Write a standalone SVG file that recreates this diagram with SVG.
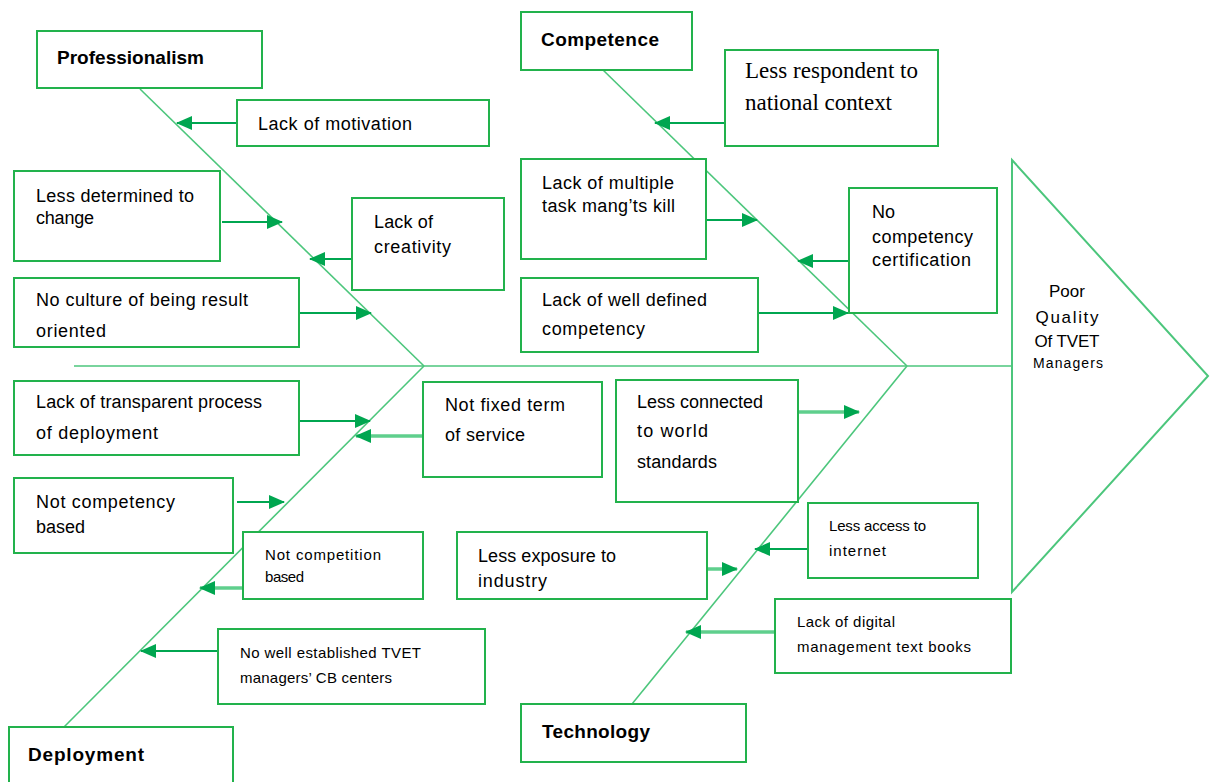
<svg xmlns="http://www.w3.org/2000/svg" width="1214" height="782" viewBox="0 0 1214 782">
  <style>
    .box { fill: #ffffff; stroke: #22b24c; stroke-width: 2; }
    .bone { fill: none; stroke: #4cc67c; stroke-width: 1.6; }
    .head { fill: #ffffff; stroke: #4cc67c; stroke-width: 2; }
    .arw { fill: none; stroke: #00a650; stroke-width: 2; marker-end: url(#tip); }
    .arw2 { fill: none; stroke: #5fcf8d; stroke-width: 3.5; marker-end: url(#tip); }
    text { font-family: "Liberation Sans", Arial, sans-serif; fill: #000000; }
    .t { font-size: 18px; }
    .s { font-size: 15px; }
    .b { font-size: 19px; font-weight: bold; }
    .serif { font-family: "Liberation Serif", "Times New Roman", serif; font-size: 23px; }
    .eff { font-size: 17px; text-anchor: middle; }
  </style>
  <defs>
    <marker id="tip" markerUnits="userSpaceOnUse" markerWidth="16" markerHeight="14" refX="15" refY="7" orient="auto">
      <path d="M0,0 L16,7 L0,14 z" fill="#00a650"/>
    </marker>
  </defs>
  <rect width="1214" height="782" fill="#ffffff"/>

  <!-- fishbone skeleton and cause arrows -->
  <g id="connectors">
    <line class="bone" x1="74" y1="366" x2="1012" y2="366"/>
    <line class="bone" x1="140" y1="89" x2="424" y2="366"/>
    <line class="bone" x1="603" y1="70" x2="907" y2="366"/>
    <line class="bone" x1="424" y1="366" x2="64" y2="727"/>
    <line class="bone" x1="907" y1="366" x2="632" y2="704"/>

    <line class="arw" x1="237" y1="123" x2="177" y2="123"/>
    <line class="arw" x1="222" y1="222" x2="282" y2="222"/>
    <line class="arw" x1="352" y1="259" x2="310" y2="259"/>
    <line class="arw" x1="299" y1="313" x2="371" y2="313"/>
    <line class="arw" x1="725" y1="123" x2="655" y2="123"/>
    <line class="arw" x1="707" y1="220" x2="757" y2="220"/>
    <line class="arw" x1="849" y1="261" x2="798" y2="261"/>
    <line class="arw" x1="758" y1="313" x2="848" y2="313"/>
    <line class="arw" x1="299" y1="421" x2="370" y2="421"/>
    <line class="arw2" x1="423" y1="436" x2="356" y2="436"/>
    <line class="arw" x1="237" y1="502" x2="284" y2="502"/>
    <line class="arw2" x1="243" y1="588" x2="200" y2="588"/>
    <line class="arw" x1="218" y1="651" x2="141" y2="651"/>
    <line class="arw2" x1="798" y1="412" x2="859" y2="412"/>
    <line class="arw" x1="808" y1="549" x2="755" y2="549"/>
    <line class="arw2" x1="707" y1="569" x2="737" y2="569"/>
    <line class="arw2" x1="775" y1="632" x2="686" y2="632"/>
  </g>

  <!-- effect head -->
  <g id="effect">
    <polygon class="head" points="1012,160 1208,376 1012,592"/>
    <text class="eff" x="1067" y="297">Poor</text>
    <text class="eff" x="1067" y="323" textLength="63" lengthAdjust="spacing">Quality</text>
    <text class="eff" x="1067" y="347" textLength="65" lengthAdjust="spacing">Of TVET</text>
    <text class="eff" x="1068" y="368" style="font-size:14px" textLength="70" lengthAdjust="spacing">Managers</text>
  </g>

  <!-- category heads -->
  <g id="professionalism">
    <rect class="box" x="37" y="31" width="225" height="57"/>
    <text class="b" x="57" y="64" textLength="147" lengthAdjust="spacing">Professionalism</text>
  </g>
  <g id="competence">
    <rect class="box" x="521" y="12" width="171" height="58"/>
    <text class="b" x="541" y="46" textLength="118" lengthAdjust="spacing">Competence</text>
  </g>
  <g id="deployment">
    <rect class="box" x="9" y="727" width="224" height="62"/>
    <text class="b" x="28" y="761" textLength="116" lengthAdjust="spacing">Deployment</text>
  </g>
  <g id="technology">
    <rect class="box" x="521" y="704" width="225" height="58"/>
    <text class="b" x="542" y="738" textLength="108" lengthAdjust="spacing">Technology</text>
  </g>

  <!-- professionalism causes -->
  <g id="lack-motivation">
    <rect class="box" x="237" y="100" width="252" height="46"/>
    <text class="t" x="258" y="130" textLength="154" lengthAdjust="spacing">Lack of motivation</text>
  </g>
  <g id="less-determined">
    <rect class="box" x="14" y="171" width="206" height="90"/>
    <text class="t" x="36" y="202" textLength="158" lengthAdjust="spacing">Less determined to</text>
    <text class="t" x="36" y="224" textLength="58" lengthAdjust="spacing">change</text>
  </g>
  <g id="lack-creativity">
    <rect class="box" x="352" y="198" width="152" height="92"/>
    <text class="t" x="374" y="228" textLength="59" lengthAdjust="spacing">Lack of</text>
    <text class="t" x="374" y="253" textLength="77" lengthAdjust="spacing">creativity</text>
  </g>
  <g id="no-result-culture">
    <rect class="box" x="14" y="278" width="285" height="69"/>
    <text class="t" x="36" y="306" textLength="212" lengthAdjust="spacing">No culture of being result</text>
    <text class="t" x="36" y="337" textLength="70" lengthAdjust="spacing">oriented</text>
  </g>

  <!-- competence causes -->
  <g id="national-context">
    <rect class="box" x="725" y="50" width="213" height="96"/>
    <text class="serif" x="745" y="78" textLength="173" lengthAdjust="spacing">Less respondent to</text>
    <text class="serif" x="745" y="110" textLength="147" lengthAdjust="spacing">national context</text>
  </g>
  <g id="multitask-skill">
    <rect class="box" x="521" y="159" width="185" height="100"/>
    <text class="t" x="542" y="189" textLength="132" lengthAdjust="spacing">Lack of multiple</text>
    <text class="t" x="542" y="212" textLength="133" lengthAdjust="spacing">task mang’ts kill</text>
  </g>
  <g id="no-certification">
    <rect class="box" x="849" y="188" width="148" height="125"/>
    <text class="t" x="872" y="218">No</text>
    <text class="t" x="872" y="243" textLength="101" lengthAdjust="spacing">competency</text>
    <text class="t" x="872" y="266" textLength="99" lengthAdjust="spacing">certification</text>
  </g>
  <g id="undefined-competency">
    <rect class="box" x="521" y="278" width="237" height="74"/>
    <text class="t" x="542" y="306" textLength="165" lengthAdjust="spacing">Lack of well defined</text>
    <text class="t" x="542" y="335" textLength="103" lengthAdjust="spacing">competency</text>
  </g>

  <!-- deployment causes -->
  <g id="transparent-process">
    <rect class="box" x="14" y="381" width="285" height="74"/>
    <text class="t" x="36" y="408" textLength="226" lengthAdjust="spacing">Lack of transparent process</text>
    <text class="t" x="36" y="439" textLength="122" lengthAdjust="spacing">of deployment</text>
  </g>
  <g id="fixed-term">
    <rect class="box" x="423" y="382" width="179" height="95"/>
    <text class="t" x="445" y="411" textLength="120" lengthAdjust="spacing">Not fixed term</text>
    <text class="t" x="445" y="441" textLength="80" lengthAdjust="spacing">of service</text>
  </g>
  <g id="competency-based">
    <rect class="box" x="14" y="478" width="219" height="75"/>
    <text class="t" x="36" y="508" textLength="139" lengthAdjust="spacing">Not competency</text>
    <text class="t" x="36" y="533" textLength="49" lengthAdjust="spacing">based</text>
  </g>
  <g id="competition-based">
    <rect class="box" x="243" y="532" width="180" height="67"/>
    <text class="s" x="265" y="560" textLength="116" lengthAdjust="spacing">Not competition</text>
    <text class="s" x="265" y="582" textLength="39" lengthAdjust="spacing">based</text>
  </g>
  <g id="cb-centers">
    <rect class="box" x="218" y="629" width="267" height="75"/>
    <text class="s" x="240" y="658" textLength="181" lengthAdjust="spacing">No well established TVET</text>
    <text class="s" x="240" y="683" textLength="152" lengthAdjust="spacing">managers’ CB centers</text>
  </g>

  <!-- technology causes -->
  <g id="world-standards">
    <rect class="box" x="616" y="380" width="182" height="122"/>
    <text class="t" x="637" y="408" textLength="126" lengthAdjust="spacing">Less connected</text>
    <text class="t" x="637" y="437" textLength="71" lengthAdjust="spacing">to world</text>
    <text class="t" x="637" y="468" textLength="80" lengthAdjust="spacing">standards</text>
  </g>
  <g id="internet-access">
    <rect class="box" x="808" y="503" width="170" height="75"/>
    <text class="s" x="829" y="531" textLength="97" lengthAdjust="spacing">Less access to</text>
    <text class="s" x="829" y="556" textLength="57" lengthAdjust="spacing">internet</text>
  </g>
  <g id="industry-exposure">
    <rect class="box" x="457" y="532" width="250" height="67"/>
    <text class="t" x="478" y="562" textLength="138" lengthAdjust="spacing">Less exposure to</text>
    <text class="t" x="478" y="587" textLength="69" lengthAdjust="spacing">industry</text>
  </g>
  <g id="digital-textbooks">
    <rect class="box" x="775" y="599" width="236" height="74"/>
    <text class="s" x="797" y="627" textLength="98" lengthAdjust="spacing">Lack of digital</text>
    <text class="s" x="797" y="652" textLength="174" lengthAdjust="spacing">management text books</text>
  </g>
</svg>
